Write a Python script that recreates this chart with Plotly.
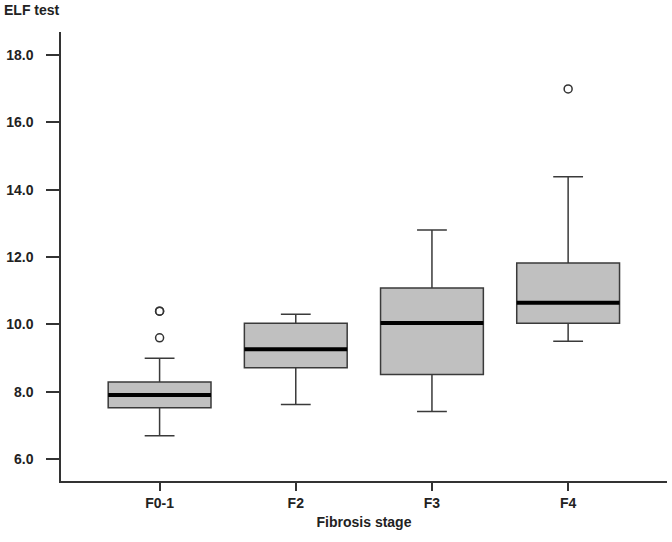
import plotly.graph_objects as go

# ========== DATA ==========
stages = ["F0-1", "F2", "F3", "F4"]
q1 = [7.52, 8.71, 8.51, 10.03]
median = [7.90, 9.26, 10.04, 10.64]
q3 = [8.29, 10.03, 11.08, 11.82]
lower_whisker = [6.69, 7.62, 7.41, 9.50]
upper_whisker = [8.99, 10.30, 12.80, 14.38]
outlier_stage = ["F0-1", "F0-1", "F0-1", "F4"]
outlier_value = [9.60, 10.39, 10.39, 16.99]

BOX_WIDTH = 0.755
TEXT = "#222222"
FONT = "Liberation Sans, Arial, sans-serif"

pos = {s: i + 1 for i, s in enumerate(stages)}
xs = [pos[s] for s in stages]

fig = go.Figure()

# Boxes (pre-computed statistics, R style)
fig.add_trace(go.Box(
    x=xs,
    q1=q1, median=median, q3=q3,
    lowerfence=lower_whisker, upperfence=upper_whisker,
    width=BOX_WIDTH,
    whiskerwidth=0.29,
    fillcolor="#c0c0c0",
    line=dict(color="#3a3a3a", width=1.5),
    boxpoints=False,
    hoverinfo="skip",
    showlegend=False,
))

# Thick median bars
mx, my = [], []
for x, m in zip(xs, median):
    mx += [x - BOX_WIDTH / 2, x + BOX_WIDTH / 2, None]
    my += [m, m, None]
fig.add_trace(go.Scatter(
    x=mx, y=my, mode="lines",
    line=dict(color="black", width=4),
    hoverinfo="skip", showlegend=False,
))

# Outliers
fig.add_trace(go.Scatter(
    x=[pos[s] for s in outlier_stage],
    y=outlier_value,
    mode="markers",
    marker=dict(symbol="circle-open", size=8, color="#333333", line=dict(width=1.5)),
    showlegend=False,
))

fig.add_annotation(
    text="<b>ELF test</b>", x=-0.097, y=1.048, xref="paper", yref="paper",
    xanchor="left", yanchor="middle", showarrow=False,
    font=dict(size=14, color=TEXT, family=FONT),
)

fig.update_layout(
    width=672, height=542,
    margin=dict(l=61, r=5, t=32, b=61, autoexpand=False),
    paper_bgcolor="white", plot_bgcolor="white",
    font=dict(family=FONT, size=14, color=TEXT),
    xaxis=dict(
        range=[0.276, 4.726],
        tickvals=xs,
        ticktext=[f"<b>{s}</b>" for s in stages],
        ticks="outside", ticklen=8, tickwidth=1.5, tickcolor="#333333",
        showline=True, linecolor="#333333", linewidth=1.5,
        showgrid=False, zeroline=False,
        title=dict(text="<b>Fibrosis stage</b>", standoff=8,
                   font=dict(size=14, color=TEXT)),
    ),
    yaxis=dict(
        range=[5.347, 18.68],
        tickvals=[6, 8, 10, 12, 14, 16, 18],
        ticktext=["<b>%.1f</b>" % v for v in [6, 8, 10, 12, 14, 16, 18]],
        ticks="outside", ticklen=13, tickwidth=1.5, tickcolor="#333333",
        ticklabelstandoff=10,
        showline=True, linecolor="#333333", linewidth=1.5,
        showgrid=False, zeroline=False,
    ),
)

# drop the browser's default 8px body margin so the figure sits at the page corner
fig.write_html(
    "out.html",
    config={"displayModeBar": False},
    post_script="document.body.style.margin='0';",
)
